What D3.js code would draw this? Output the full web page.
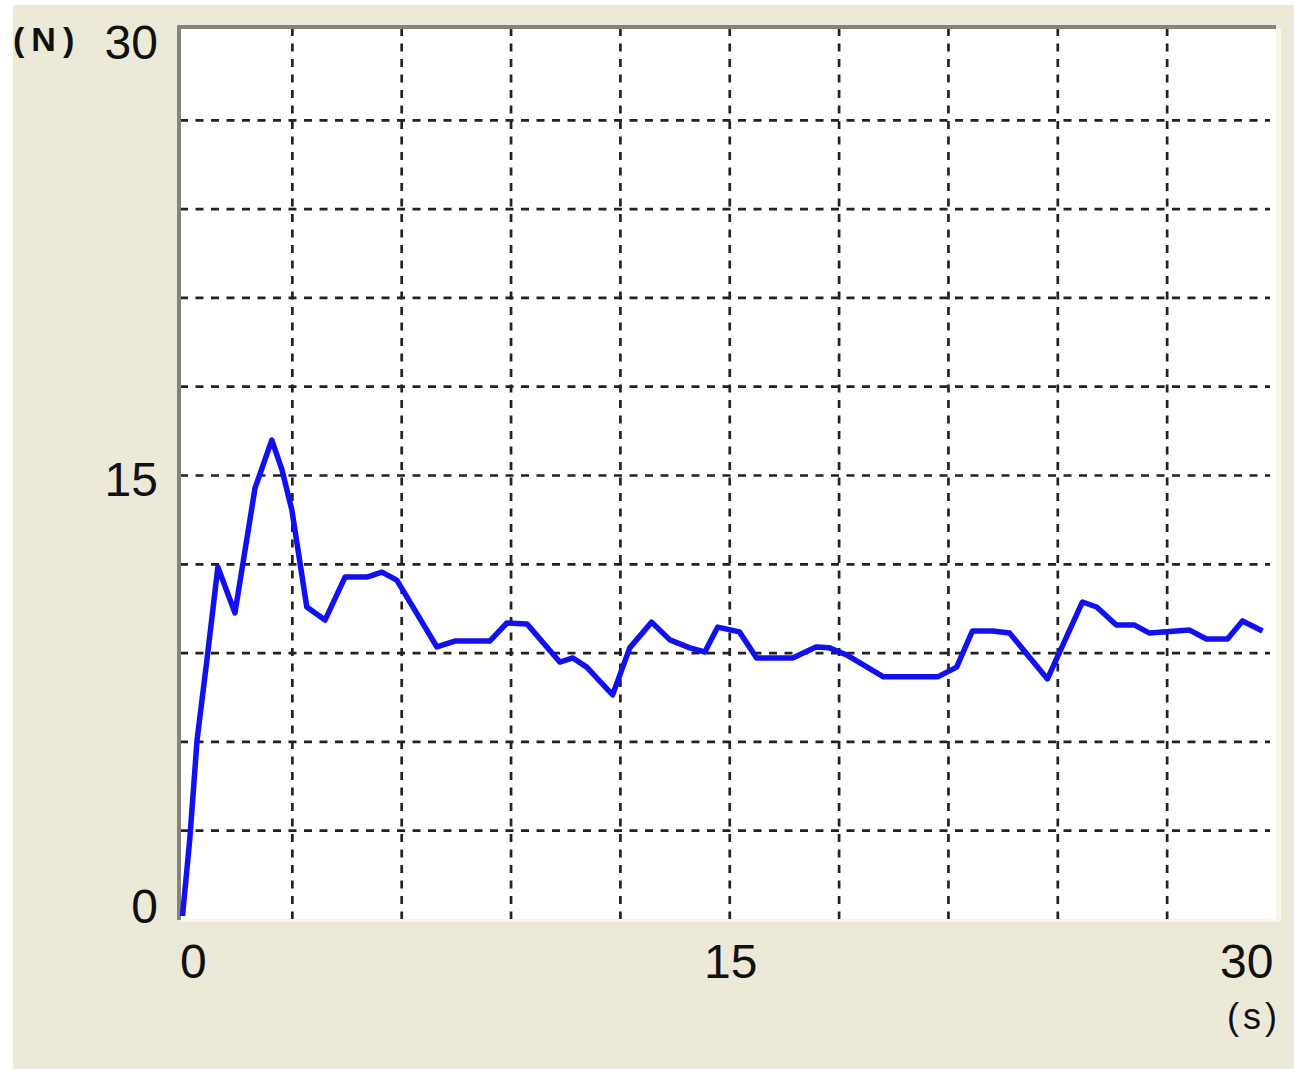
<!DOCTYPE html>
<html>
<head>
<meta charset="utf-8">
<script src="https://cdn.jsdelivr.net/npm/d3@7"></script>
<style>
  body { margin: 0; background: #ffffff; }
  svg { display: block; }
  .grid line { stroke: #222222; stroke-width: 2.7; stroke-dasharray: 8,7.5; }
  .grid path { display: none; }
  .lbl path, .lbl line { display: none; }
  .lbl text { font-family: "Liberation Sans", Arial, sans-serif; font-size: 48px; fill: #111; }
</style>
</head>
<body>
<div id="chart"></div>
<script>
// force (N) against time (s)
var time_s = [0, 0.2, 0.4, 0.67, 0.97, 1.44, 1.66, 1.99, 2.45, 2.73, 3.0, 3.41, 3.91, 4.46, 5.06,
              5.47, 5.88, 6.98, 7.47, 8.43, 8.9, 9.45, 10.35, 10.71, 11.09, 11.8, 12.27, 12.87,
              13.37, 13.92, 14.33, 14.68, 15.28, 15.75, 16.74, 17.38, 17.75, 18.22, 19.23, 20.72,
              21.24, 21.67, 22.22, 22.69, 23.73, 24.69, 25.08, 25.62, 26.12, 26.53, 27.63, 28.09,
              28.67, 29.08, 29.63];
var force_n = [0.1, 2.7, 6.05, 8.75, 11.89, 10.34, 12.03, 14.56, 16.18, 15.17, 13.82, 10.54, 10.1,
               11.55, 11.55, 11.72, 11.45, 9.19, 9.39, 9.39, 10.0, 9.97, 8.68, 8.82, 8.51, 7.57,
               9.16, 10.03, 9.43, 9.16, 9.02, 9.86, 9.7, 8.82, 8.82, 9.19, 9.16, 8.92, 8.18, 8.18,
               8.51, 9.73, 9.73, 9.66, 8.11, 10.71, 10.54, 9.93, 9.93, 9.66, 9.76, 9.46, 9.46,
               10.07, 9.73];
var grid_ticks = [3, 6, 9, 12, 15, 18, 21, 24, 27];
var x_labels = [0, 15, 30];
var y_labels = [0, 15, 30];

var W = 1294, H = 1069;

var svg = d3.select("#chart").append("svg")
            .attr("width", W)
            .attr("height", H);

// beige panel
svg.append("rect")
   .attr("x", 13).attr("y", 5)
   .attr("width", W - 13).attr("height", H - 5)
   .attr("fill", "#ece9d8");

var x = d3.scaleLinear().domain([0, 30]).range([182.5, 1276]),
    y = d3.scaleLinear().domain([0, 30]).range([919, 31]);

var plotL = 180, plotT = 28, plotR = 1276, plotB = 919;

// light edge (right / bottom of sunken frame)
svg.append("rect")
   .attr("x", plotL).attr("y", plotT)
   .attr("width", plotR - plotL + 5).attr("height", plotB - plotT + 3)
   .attr("fill", "#f7f5ec");

// plot area
svg.append("rect")
   .attr("x", plotL).attr("y", plotT)
   .attr("width", plotR - plotL).attr("height", plotB - plotT)
   .attr("fill", "#ffffff");

// grid
svg.append("g")
   .attr("class", "grid")
   .attr("transform", "translate(" + plotL + ",0)")
   .call(d3.axisRight(y).tickValues(grid_ticks).tickSize(plotR - plotL - 6).tickFormat(""));

svg.append("g")
   .attr("class", "grid")
   .attr("transform", "translate(0," + plotT + ")")
   .call(d3.axisBottom(x).tickValues(grid_ticks).tickSize(plotB - plotT).tickFormat(""));

// sunken border top / left
svg.append("line")
   .attr("x1", plotL - 3).attr("x2", plotR)
   .attr("y1", plotT - 1).attr("y2", plotT - 1)
   .attr("stroke", "#85847c").attr("stroke-width", 4);
svg.append("line")
   .attr("x1", plotL - 1).attr("x2", plotL - 1)
   .attr("y1", plotT - 3).attr("y2", plotB + 1)
   .attr("stroke", "#85847c").attr("stroke-width", 4);

// force line
var data = time_s.map(function(t, i) { return {t: t, v: force_n[i]}; });

var valueLine = d3.line()
                  .x(function(d) { return x(d.t); })
                  .y(function(d) { return y(d.v); });

svg.append("path")
   .attr("d", valueLine(data))
   .attr("fill", "none")
   .attr("stroke", "#1010f0")
   .attr("stroke-width", 5.5)
   .attr("stroke-linejoin", "round");

// axis labels
var xl = svg.append("g")
   .attr("class", "lbl")
   .attr("transform", "translate(0,935)")
   .call(d3.axisBottom(x).tickValues(x_labels).tickSize(0).tickPadding(0));
xl.selectAll("text")
  .attr("dy", 0)
  .attr("y", 43)
  .attr("text-anchor", function(d) { return d == 0 ? "start" : (d == 30 ? "end" : "middle"); })
  .attr("dx", function(d) { return d == 0 ? -3 : (d == 30 ? -3 : 1); });

var yl = svg.append("g")
   .attr("class", "lbl")
   .attr("transform", "translate(158,0)")
   .call(d3.axisLeft(y).tickValues(y_labels).tickSize(0).tickPadding(0));
yl.selectAll("text")
  .attr("x", 0)
  .attr("dy", function(d) { return d == 0 ? 3 : (d == 30 ? 27 : 20); });

// units
svg.append("text")
   .attr("x", 13).attr("y", 51)
   .style("font-family", "Liberation Sans, Arial, sans-serif")
   .style("font-size", "34px")
   .style("font-weight", "bold")
   .style("letter-spacing", "7px")
   .style("fill", "#111")
   .text("(N)");

svg.append("text")
   .attr("x", 1227).attr("y", 1029)
   .style("font-family", "Liberation Sans, Arial, sans-serif")
   .style("font-size", "36px")
   .style("letter-spacing", "4px")
   .style("fill", "#111")
   .text("(s)");
</script>
</body>
</html>
